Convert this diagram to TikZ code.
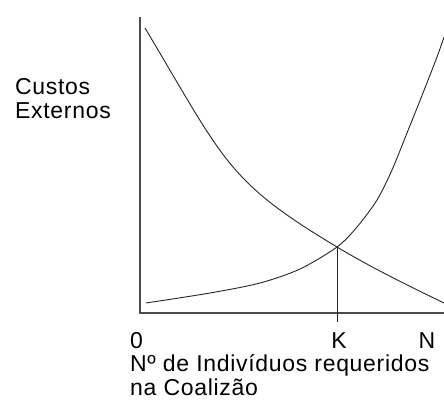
\documentclass[tikz,border=0pt]{standalone}
\usepackage{fontspec}
\setmainfont{Liberation Sans}
\begin{document}
\begin{tikzpicture}[x=1pt,y=-1pt,
  axis/.style={line width=1.3pt,black!70},
  curve/.style={line width=0.9pt,black!85},
  lbl/.style={inner sep=0pt,font=\fontsize{23}{27}\selectfont\addfontfeatures{LetterSpace=3}},
]
\useasboundingbox (0,0) rectangle (444,403);
\fill[white] (0,0) rectangle (444,403);
\coordinate (O) at (140,313);
\coordinate (Ytop) at (140,17);
\coordinate (Xend) at (444,313);
\coordinate (Kpt) at (337,247);
\coordinate (Kbot) at (337,322);
\coordinate (Dstart) at (145,28);
\coordinate (Dend) at (444,303);
\draw[axis] (Ytop) -- (O) -- (Xend);
% decreasing curve
\draw[curve] (Dstart) .. controls (225,162) and (227,181) .. (Kpt)
  .. controls (372,268) and (409,286) .. (Dend);
% increasing curve
\draw[curve] plot[smooth,tension=0.5] coordinates {(146,303) (210,293) (260,283) (300,269) (Kpt) (357,227) (377,200) (392,170) (407,133) (423,93) (437,57) (444,37)};
\draw[curve] (Kpt) -- (Kbot);
\node[lbl,anchor=base west] (cus) at (15,95) {Custos};
\node[lbl,anchor=base west] (ext) at (15,119) {Externos};
\node[lbl,anchor=base west] (zero) at (130,348) {0};
\node[lbl,anchor=base] (k) at (339,348) {K};
\node[lbl,anchor=base] (n) at (427,348) {N};
\node[lbl,anchor=base west] (l1) at (130,371) {Nº de Indivíduos requeridos};
\node[lbl,anchor=base west] (l2) at (130,395) {na Coalizão};
\end{tikzpicture}
\end{document}
